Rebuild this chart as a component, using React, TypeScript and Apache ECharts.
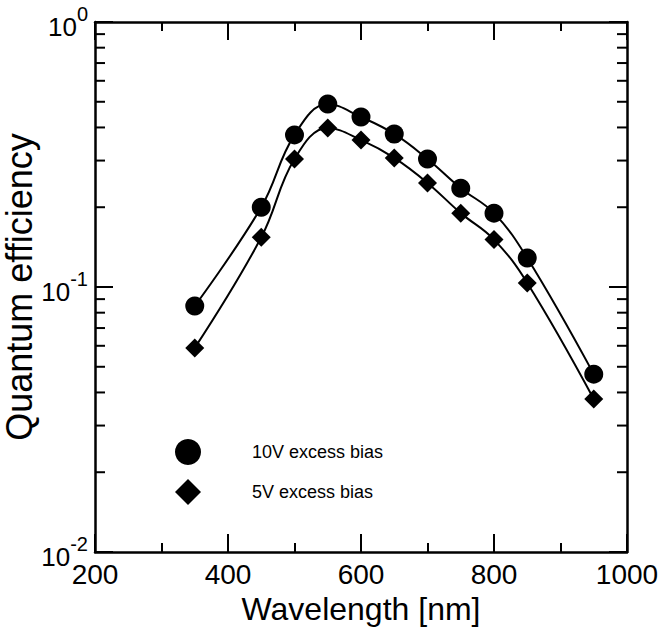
import React, { useEffect, useRef } from "react";
import * as echarts from "echarts";

const wavelengths = [350, 450, 500, 550, 600, 650, 700, 750, 800, 850, 950];
const qe10V = [0.0848, 0.2, 0.375, 0.49, 0.438, 0.378, 0.304, 0.236, 0.19, 0.1286, 0.0469];
const qe5V = [0.0589, 0.154, 0.304, 0.398, 0.359, 0.307, 0.247, 0.19, 0.151, 0.1036, 0.0378];
const seriesNames = ["10V excess bias", "5V excess bias"];
const minorTickValues = [
  0.02, 0.03, 0.04, 0.05, 0.06, 0.07, 0.08, 0.09,
  0.2, 0.3, 0.4, 0.5, 0.6, 0.7, 0.8, 0.9,
];

const FONT = "Liberation Sans, Arial, sans-serif";

export default function App() {
  const ref = useRef<HTMLDivElement>(null);
  useEffect(() => {
    if (!ref.current) return;
    const chart = echarts.init(ref.current, undefined, { renderer: "svg" });
    const axisLineStyle = { color: "#000", width: 2.5 };
    const tickStyle = { color: "#000", width: 2 };
    const yLabelFmt = (v: number) => {
      const e = Math.round(Math.log10(v));
      return `{b|10}{s|${e}}`;
    };
    const option: any = {
      animation: false,
      backgroundColor: "#fff",
      textStyle: { fontFamily: FONT, color: "#000" },
      grid: { left: 95, top: 22, right: 36, bottom: 79, containLabel: false, outerBoundsMode: "none" },
      legend: {
        orient: "vertical",
        left: 170,
        top: 434,
        itemWidth: 26,
        itemHeight: 26,
        itemGap: 14,
        textStyle: { fontSize: 18, color: "#000", fontFamily: FONT, padding: [0, 0, 0, 46] },
        data: [
          { name: seriesNames[0], icon: "circle" },
          { name: seriesNames[1], icon: "diamond" },
        ],
      },
      xAxis: [
        {
          type: "value",
          min: 200,
          max: 1000,
          interval: 200,
          position: "bottom",
          name: "Wavelength [nm]",
          nameLocation: "middle",
          nameGap: 35,
          nameTextStyle: { fontSize: 32, color: "#000", fontFamily: FONT },
          axisLine: { show: true, lineStyle: axisLineStyle },
          axisTick: { show: true, inside: true, length: 18, lineStyle: tickStyle },
          minorTick: { show: true, splitNumber: 2, length: 9, lineStyle: tickStyle },
          axisLabel: { fontSize: 28, color: "#000", margin: 8, fontFamily: FONT, formatter: (v: number) => String(v) },
          splitLine: { show: false },
        },
        {
          type: "value",
          min: 200,
          max: 1000,
          interval: 200,
          position: "top",
          axisLine: { show: true, lineStyle: axisLineStyle },
          axisTick: { show: true, inside: true, length: 18, lineStyle: tickStyle },
          minorTick: { show: true, splitNumber: 2, length: 9, lineStyle: tickStyle },
          axisLabel: { show: false },
          splitLine: { show: false },
        },
      ],
      yAxis: [
        {
          type: "log",
          logBase: 10,
          min: 0.01,
          max: 1,
          position: "left",
          name: "Quantum efficiency",
          nameLocation: "middle",
          nameGap: 58,
          nameMoveOverlap: false,
          nameTextStyle: { fontSize: 36, color: "#000", fontFamily: FONT },
          axisLine: { show: true, lineStyle: axisLineStyle },
          axisTick: { show: true, inside: true, length: 18, lineStyle: tickStyle },
          axisLabel: {
            margin: 7,
            formatter: yLabelFmt,
            rich: {
              b: { fontSize: 26, lineHeight: 36, verticalAlign: "bottom", color: "#000", fontFamily: FONT },
              s: { fontSize: 20, lineHeight: 10, verticalAlign: "top", color: "#000", fontFamily: FONT },
            },
          },
          splitLine: { show: false },
        },
        {
          type: "log",
          logBase: 10,
          min: 0.01,
          max: 1,
          position: "right",
          axisLine: { show: true, lineStyle: axisLineStyle },
          axisTick: { show: true, inside: true, length: 18, lineStyle: tickStyle },
          axisLabel: { show: false },
          splitLine: { show: false },
        },
      ],
      series: [
        {
          name: seriesNames[0],
          type: "line",
          data: wavelengths.map((w, i) => [w, qe10V[i]]),
          smooth: 0.4,
          symbol: "circle",
          symbolSize: 19,
          itemStyle: { color: "#000" },
          lineStyle: { color: "#000", width: 2 },
          z: 3,
        },
        {
          name: seriesNames[1],
          type: "line",
          data: wavelengths.map((w, i) => [w, qe5V[i]]),
          smooth: 0.4,
          symbol: "diamond",
          symbolSize: 19,
          itemStyle: { color: "#000" },
          lineStyle: { color: "#000", width: 2 },
          z: 3,
        },
        {
          name: "minorTicks",
          type: "custom",
          silent: true,
          data: minorTickValues.map((v) => [200, v]),
          renderItem: (_p: any, api: any) => {
            const v = api.value(1);
            const l = api.coord([200, v]);
            const r = api.coord([1000, v]);
            return {
              type: "group",
              children: [
                { type: "line", shape: { x1: l[0], y1: l[1], x2: l[0] + 10, y2: l[1] }, style: { stroke: "#000", lineWidth: 2 } },
                { type: "line", shape: { x1: r[0], y1: r[1], x2: r[0] - 10, y2: r[1] }, style: { stroke: "#000", lineWidth: 2 } },
              ],
            };
          },
          z: 2,
        },
      ],
    };
    chart.setOption(option);
    return () => chart.dispose();
  }, []);
  return <div ref={ref} style={{ width: 663, height: 631, position: "absolute", left: 0, top: 0 }} />;
}
